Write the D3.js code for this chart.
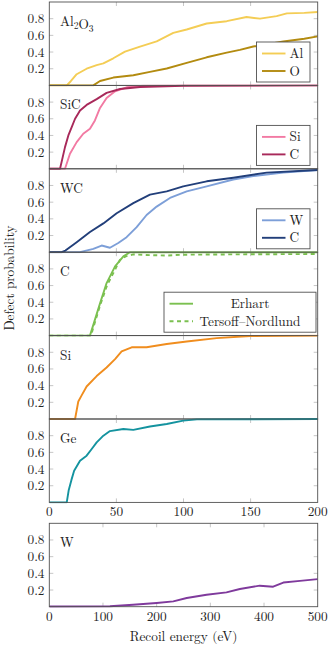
<!DOCTYPE html>
<html>
<head>
<meta charset="utf-8">
<title>Defect probability</title>
<script src="https://cdn.jsdelivr.net/npm/d3@7"></script>
<style>
  body { margin:0; padding:0; background:#fff; }
  svg { display:block; }
</style>
</head>
<body>
<svg id="chart" width="331" height="650"></svg>
<script>
// recoil energy (eV) vs defect probability
var alAl = [[0,0],[13,0],[16,0.05],[20.4,0.134],[27.8,0.2],[35.3,0.243],[40.3,0.264],[47.7,0.325],[56.4,0.405],[67.6,0.466],[80,0.527],[92.4,0.63],[102.4,0.67],[117.3,0.742],[132.2,0.77],[147,0.82],[157,0.8],[169.4,0.83],[177,0.864],[190,0.87],[200,0.88]];
var alO = [[0,0],[32.8,0],[37.8,0.053],[47.7,0.094],[62.6,0.122],[75,0.162],[87.5,0.203],[102.4,0.27],[117.3,0.337],[132.2,0.393],[142,0.426],[152,0.466],[174.4,0.527],[190,0.56],[200,0.588]];
var sicSi = [[0,0],[11.7,0],[15.4,0.18],[20.4,0.32],[25.3,0.42],[30.3,0.48],[34,0.58],[37.8,0.73],[42.7,0.85],[49,0.93],[57.6,0.977],[70,0.995],[100,1],[200,1]];
var sicC = [[0,0],[8,0],[11.7,0.26],[14.2,0.4],[16.7,0.5],[19.2,0.6],[22.9,0.7],[27.8,0.766],[35.3,0.835],[42.7,0.91],[52.7,0.957],[67.6,0.98],[100,0.995],[200,1]];
var wcW = [[0,0],[22.9,0],[32.8,0.04],[39,0.08],[45.2,0.053],[51.4,0.11],[57.6,0.18],[65.1,0.3],[72.5,0.446],[80,0.547],[89.9,0.65],[102.4,0.73],[117.3,0.79],[137.1,0.872],[152,0.912],[174.4,0.954],[200,0.985]];
var wcC = [[0,0],[9.2,0],[12,0.02],[20.4,0.12],[30.3,0.243],[40.3,0.345],[50.2,0.467],[62.6,0.589],[75,0.69],[87.5,0.73],[99.8,0.79],[117.3,0.85],[137.1,0.893],[162,0.954],[200,0.985]];
var cErhart = [[0,0],[30.3,0],[37.8,0.386],[42.7,0.63],[49,0.83],[55.2,0.95],[60.1,1],[200,1]];
var cTersoff = [[0,0],[31,0],[38,0.37],[43,0.6],[47.7,0.75],[52.7,0.91],[57,0.95],[62.6,0.973],[75,0.965],[87,0.96],[100,0.97],[150,0.975],[200,0.978]];
var siData = [[0,0],[19.2,0],[21.6,0.21],[24,0.28],[27.8,0.39],[35.3,0.515],[42.7,0.617],[49,0.718],[53.9,0.81],[61.4,0.86],[72.5,0.86],[87.5,0.9],[102.4,0.93],[124.7,0.97],[149.6,0.995],[200,1]];
var geData = [[0,0],[13,0],[14.5,0.15],[16.5,0.27],[18.5,0.38],[22.9,0.5],[27.8,0.56],[31.6,0.64],[35.3,0.72],[40.3,0.8],[45.2,0.855],[55.2,0.88],[62.6,0.87],[75,0.91],[87.5,0.94],[99.8,0.98],[110,0.995],[200,1]];
var wData = [[0,0.003],[113,0.005],[156,0.024],[200,0.045],[231,0.064],[256,0.104],[293,0.144],[330,0.172],[355,0.212],[392,0.252],[417,0.24],[436,0.29],[467,0.31],[500,0.33]];

var yTicks = [0.2, 0.4, 0.6, 0.8];
var xTicksShort = [0, 50, 100, 150, 200];
var xTicksLong = [0, 100, 200, 300, 400, 500];

// panels: name, series, legend
var panels = [
  {name:["Al",["2"],"O",["3"]], xmax:200, series:[
    {label:"Al", data:alAl, color:"#f4cd55"},
    {label:"O", data:alO, color:"#b38b10"}]},
  {name:["SiC"], xmax:200, series:[
    {label:"Si", data:sicSi, color:"#f27aa3"},
    {label:"C", data:sicC, color:"#a8295a"}]},
  {name:["WC"], xmax:200, series:[
    {label:"W", data:wcW, color:"#7d9fd8"},
    {label:"C", data:wcC, color:"#223f7a"}]},
  {name:["C"], xmax:200, wide:true, series:[
    {label:"Erhart", data:cErhart, color:"#7bc050"},
    {label:"Tersoff\u2013Nordlund", data:cTersoff, color:"#7bc050", dash:"4,3.5"}]},
  {name:["Si"], xmax:200, series:[{data:siData, color:"#f08d1e"}]},
  {name:["Ge"], xmax:200, xlabels:true, series:[{data:geData, color:"#14939f"}]},
  {name:["W"], xmax:500, xlabels:true, series:[{data:wData, color:"#7f3a9c"}]}
];

var svg = d3.select("#chart");
var left = 49.3, right = 317.7, ph = 83.4;
var tops = [2, 85.4, 168.8, 252.2, 335.6, 419, 523.3];
var fs = 13.3;
var font = "'Latin Modern Roman', 'Liberation Serif', serif";

function label(sel) {
  return sel.attr("font-family", font).attr("font-size", fs).attr("fill", "#222");
}

panels.forEach(function(p, i){
  var top = tops[i];
  var x = d3.scaleLinear().domain([0, p.xmax]).range([left, right]);
  var y = d3.scaleLinear().domain([0, 1]).range([top + ph, top]);
  var g = svg.append("g");
  var ticksX = p.xmax == 500 ? xTicksLong : xTicksShort;

  // inner ticks
  var tk = g.append("g").attr("stroke", "#b8b8b8").attr("stroke-width", 0.8);
  yTicks.forEach(function(v){
    tk.append("line").attr("x1", left).attr("x2", left + 4).attr("y1", y(v)).attr("y2", y(v));
    tk.append("line").attr("x1", right - 4).attr("x2", right).attr("y1", y(v)).attr("y2", y(v));
  });
  ticksX.slice(1, -1).forEach(function(v){
    tk.append("line").attr("x1", x(v)).attr("x2", x(v)).attr("y1", top).attr("y2", top + 4);
    tk.append("line").attr("x1", x(v)).attr("x2", x(v)).attr("y1", top + ph - 4).attr("y2", top + ph);
  });

  // y tick labels
  yTicks.forEach(function(v){
    label(g.append("text")).attr("x", 44.5).attr("y", y(v) + 4.5)
      .attr("text-anchor", "end").text(v.toFixed(1));
  });

  if (p.xlabels) {
    ticksX.forEach(function(v){
      label(g.append("text")).attr("x", x(v)).attr("y", top + ph + 14)
        .attr("text-anchor", "middle").text(v);
    });
  }

  // curves
  var clipId = "clip" + i;
  svg.append("clipPath").attr("id", clipId).append("rect")
    .attr("x", left).attr("y", top - 1).attr("width", right - left).attr("height", ph + 2);
  var line = d3.line().x(function(d){ return x(d[0]); }).y(function(d){ return y(d[1]); });
  p.series.forEach(function(s){
    g.append("path").attr("d", line(s.data)).attr("fill", "none")
      .attr("stroke", s.color).attr("stroke-width", 1.9)
      .attr("stroke-dasharray", s.dash || null)
      .attr("stroke-linejoin", "round")
      .attr("clip-path", "url(#" + clipId + ")");
  });

  // frame
  g.append("rect").attr("x", left).attr("y", top).attr("width", right - left).attr("height", ph)
    .attr("fill", "none").attr("stroke", "#505050").attr("stroke-width", 0.9);

  // panel name
  var nm = label(g.append("text")).attr("x", 60).attr("y", top + 24);
  p.name.forEach(function(part){
    if (Array.isArray(part)) {
      nm.append("tspan").attr("font-size", 9.5).attr("dy", 3).text(part[0]);
      nm.append("tspan").attr("dy", -3).text("");
    } else {
      nm.append("tspan").text(part);
    }
  });

  // legend
  var labeled = p.series.filter(function(s){ return s.label; });
  if (labeled.length) {
    var bx0 = p.wide ? 164 : 256.5, bx1 = p.wide ? 316 : 310;
    var lg = g.append("g");
    lg.append("rect").attr("x", bx0).attr("y", top + 40).attr("width", bx1 - bx0).attr("height", 40)
      .attr("fill", "#fff").attr("stroke", "#505050").attr("stroke-width", 0.9);
    labeled.forEach(function(s, j){
      var ry = top + 51.5 + j * 17.5;
      lg.append("line").attr("x1", bx0 + 5.5).attr("x2", bx0 + 29).attr("y1", ry).attr("y2", ry)
        .attr("stroke", s.color).attr("stroke-width", 1.9).attr("stroke-dasharray", s.dash || null);
      var t = label(lg.append("text")).attr("y", ry + 4.5).text(s.label);
      if (p.wide) t.attr("x", 250).attr("text-anchor", "middle");
      else t.attr("x", bx0 + 33);
    });
  }
});

// axis titles
label(svg.append("text")).attr("transform", "translate(14,278) rotate(-90)")
  .attr("text-anchor", "middle").text("Defect probability");
label(svg.append("text")).attr("x", (left + right) / 2).attr("y", 640.5)
  .attr("text-anchor", "middle").text("Recoil energy (eV)");
</script>
</body>
</html>
